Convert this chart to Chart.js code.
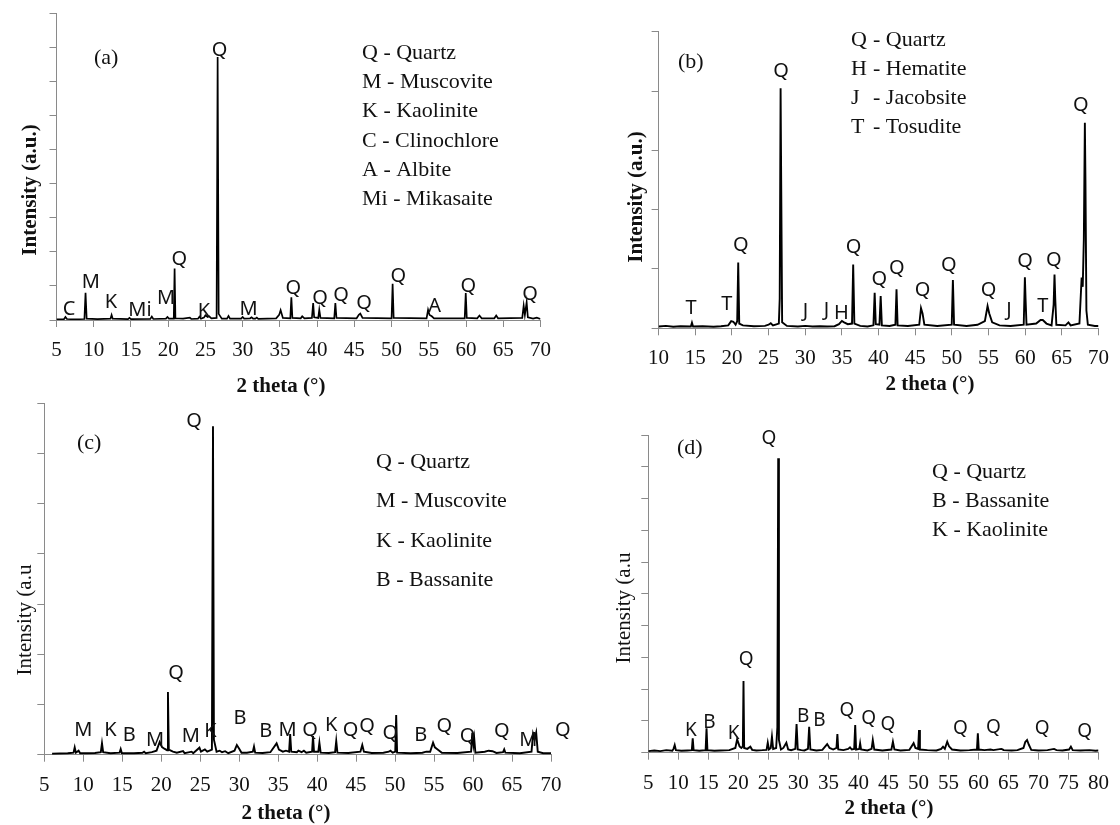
<!DOCTYPE html>
<html>
<head>
<meta charset="utf-8">
<script src="https://cdn.jsdelivr.net/npm/chart.js@4.4.1/dist/chart.umd.min.js"></script>
<style>
    html, body { margin: 0; padding: 0; background: #fff; }
    #wrap { position: relative; width: 1120px; height: 825px; }
    #wrap canvas { position: absolute; left: 0; top: 0; }
</style>
</head>
<body>
<div id="wrap">
    <canvas id="xrdA" width="1120" height="825"></canvas>
    <canvas id="xrdB" width="1120" height="825"></canvas>
    <canvas id="xrdC" width="1120" height="825"></canvas>
    <canvas id="xrdD" width="1120" height="825"></canvas>
</div>
<script>
// ---- data: [2 theta, intensity] ----
const patternA = [
    [5.0, 20], [6.0, 25], [6.2, 90], [6.4, 30], [7.5, 20], [8.75, 30], [8.9, 800], [9.05, 40],
    [10.5, 25], [12.25, 40], [12.4, 150], [12.55, 40], [14.6, 25], [14.8, 60], [15.0, 25],
    [17.6, 30], [17.8, 100], [18.0, 30], [19.7, 40], [19.9, 90], [20.1, 40], [20.75, 40],
    [20.86, 1510], [20.97, 50], [22.0, 40], [22.9, 70], [23.1, 30], [24.0, 40], [24.2, 100],
    [24.4, 40], [24.8, 70], [25.0, 140], [25.3, 90], [25.5, 110], [25.8, 50], [26.5, 60],
    [26.64, 7720], [26.78, 180], [27.2, 40], [27.9, 40], [28.1, 120], [28.3, 40], [29.8, 40],
    [30.0, 90], [30.2, 40], [31.0, 50], [31.2, 80], [31.4, 40], [31.7, 40], [31.9, 70], [32.1, 35],
    [34.5, 50], [34.9, 150], [35.1, 290], [35.4, 60], [36.4, 50], [36.54, 670], [36.68, 60],
    [37.8, 50], [38.0, 110], [38.3, 50], [39.3, 60], [39.47, 500], [39.6, 80], [40.15, 60],
    [40.29, 300], [40.45, 60], [42.3, 50], [42.45, 500], [42.6, 60], [45.3, 50], [45.6, 150],
    [45.8, 190], [46.1, 60], [50.0, 50], [50.14, 1065], [50.28, 60], [54.7, 50], [54.9, 300],
    [55.1, 150], [55.4, 110], [55.7, 50], [59.82, 50], [59.96, 790], [60.1, 60], [61.5, 50],
    [61.8, 130], [62.1, 50], [63.8, 50], [64.05, 130], [64.3, 50], [67.55, 60], [67.74, 420],
    [67.9, 150], [68.14, 520], [68.3, 80], [69.0, 40], [69.5, 70], [70.0, 30]
];
const patternB = [
    [10.0, 30], [11.0, 40], [12.0, 25], [13.0, 35], [14.4, 30], [14.55, 95], [14.7, 30], [16.0, 35],
    [17.5, 25], [18.5, 35], [19.5, 50], [19.9, 120], [20.2, 110], [20.5, 60], [20.72, 120],
    [20.86, 1110], [21.0, 80], [21.5, 50], [23.0, 35], [24.5, 40], [25.0, 60], [25.3, 85],
    [25.6, 50], [26.4, 80], [26.52, 500], [26.64, 4045], [26.72, 2500], [26.85, 100], [27.5, 40],
    [29.0, 30], [30.0, 40], [31.0, 30], [32.0, 35], [33.0, 30], [34.0, 35], [34.6, 70], [35.0, 124],
    [35.3, 100], [35.8, 70], [36.38, 80], [36.54, 1075], [36.7, 80], [37.5, 40], [38.5, 30],
    [39.3, 50], [39.47, 600], [39.62, 70], [40.12, 60], [40.29, 545], [40.45, 50], [41.5, 40],
    [42.3, 60], [42.45, 657], [42.6, 50], [44.0, 40], [45.55, 60], [45.79, 340], [46.0, 250],
    [46.25, 60], [48.0, 40], [49.98, 60], [50.14, 815], [50.3, 60], [52.0, 40], [53.5, 60],
    [54.5, 120], [54.87, 376], [55.1, 250], [55.5, 100], [56.5, 50], [58.0, 40], [59.8, 60],
    [59.96, 860], [60.05, 500], [60.18, 60], [61.5, 80], [62.1, 140], [62.4, 140], [62.9, 80],
    [63.6, 50], [63.88, 400], [64.0, 905], [64.1, 500], [64.25, 60], [65.5, 50], [65.9, 100],
    [66.2, 50], [67.4, 80], [67.7, 854], [67.85, 700], [68.0, 1500], [68.14, 3466], [68.22, 2500],
    [68.35, 300], [68.55, 60], [69.5, 40], [70.0, 40]
];
const patternC = [
    [6.0, 20], [7.0, 25], [8.0, 30], [8.75, 40], [8.9, 146], [9.05, 40], [9.4, 80], [9.6, 30],
    [10.5, 30], [11.5, 35], [12.25, 50], [12.4, 226], [12.55, 50], [13.5, 30], [14.65, 40], [14.8, 113],
    [14.95, 30], [16.5, 30], [17.6, 40], [17.8, 60], [18.0, 30], [18.8, 50], [19.4, 80], [19.8, 252],
    [20.1, 150], [20.4, 120], [20.75, 90], [20.86, 1248], [20.97, 100], [21.5, 60], [22.0, 40],
    [22.8, 70], [23.0, 30], [23.9, 60], [24.1, 30], [24.9, 140], [25.1, 60], [25.6, 106], [25.9, 60],
    [26.5, 100], [26.64, 6545], [26.76, 300], [27.1, 60], [27.5, 80], [27.8, 50], [28.2, 70],
    [28.6, 30], [29.4, 80], [29.7, 193], [30.0, 120], [30.3, 40], [31.0, 40], [31.75, 60], [31.9, 160],
    [32.05, 40], [33.0, 35], [34.0, 50], [34.8, 226], [35.1, 100], [35.6, 60], [36.0, 80], [36.4, 60],
    [36.54, 412], [36.68, 60], [37.4, 50], [37.6, 80], [38.0, 50], [38.3, 80], [38.6, 40], [39.35, 60],
    [39.47, 372], [39.6, 60], [40.15, 60], [40.29, 239], [40.45, 40], [41.5, 35], [42.3, 50],
    [42.45, 272], [42.6, 40], [44.0, 35], [45.55, 60], [45.79, 193], [46.0, 60], [47.0, 35],
    [48.5, 40], [49.2, 60], [49.4, 80], [49.7, 40], [50.02, 60], [50.14, 790], [50.26, 40], [52.0, 30],
    [53.5, 40], [54.0, 60], [54.5, 60], [54.87, 239], [55.1, 146], [55.5, 100], [56.0, 40],
    [58.0, 35], [59.75, 60], [59.9, 438], [60.05, 200], [60.15, 325], [60.3, 40], [61.5, 60],
    [62.0, 80], [62.5, 70], [63.0, 35], [63.85, 50], [64.0, 106], [64.15, 40], [66.0, 30], [67.5, 60],
    [67.7, 412], [67.9, 300], [68.1, 438], [68.3, 60], [69.0, 30], [70.0, 30]
];
const patternD = [
    [5.0, 50], [6.0, 70], [7.0, 50], [8.0, 80], [9.0, 60], [9.2, 120], [9.4, 241], [9.6, 80],
    [10.5, 60], [11.5, 70], [12.25, 80], [12.4, 450], [12.55, 80], [13.5, 60], [14.55, 80], [14.7, 765],
    [14.85, 80], [16.0, 60], [17.0, 70], [18.5, 80], [19.5, 150], [19.8, 420], [20.2, 200], [20.5, 150],
    [20.75, 200], [20.86, 2254], [20.97, 150], [21.5, 120], [22.0, 190], [22.3, 90], [23.0, 70],
    [24.0, 80], [24.7, 90], [24.9, 315], [25.1, 100], [25.4, 150], [25.6, 500], [25.8, 120],
    [26.3, 150], [26.5, 800], [26.64, 9265], [26.76, 400], [27.1, 100], [27.5, 150], [28.0, 315],
    [28.3, 100], [28.8, 80], [29.5, 120], [29.7, 900], [29.9, 100], [30.5, 80], [31.0, 70],
    [31.6, 120], [31.8, 818], [32.0, 100], [33.0, 70], [34.0, 90], [34.8, 272], [35.2, 150],
    [35.8, 100], [36.35, 150], [36.5, 587], [36.65, 100], [37.5, 80], [38.3, 120], [38.6, 168],
    [38.9, 100], [39.3, 120], [39.47, 870], [39.62, 100], [40.15, 120], [40.29, 294], [40.45, 100],
    [41.5, 70], [42.2, 120], [42.4, 400], [42.65, 100], [44.0, 70], [45.5, 100], [45.75, 346],
    [46.0, 100], [47.0, 70], [48.5, 90], [49.2, 300], [49.5, 150], [49.95, 120], [50.1, 714],
    [50.25, 100], [51.5, 80], [53.0, 70], [53.8, 120], [54.1, 190], [54.4, 120], [54.8, 346],
    [55.1, 200], [55.6, 100], [57.0, 70], [58.5, 80], [59.75, 100], [59.9, 609], [60.05, 100],
    [61.0, 80], [62.0, 100], [62.5, 80], [63.8, 120], [64.0, 105], [64.2, 80], [65.5, 70],
    [66.5, 80], [67.5, 150], [67.8, 335], [68.1, 400], [68.4, 250], [68.8, 90], [70.0, 70],
    [71.5, 80], [72.6, 120], [73.0, 80], [74.0, 70], [75.1, 100], [75.4, 190], [75.7, 80],
    [77.0, 70], [78.5, 80], [79.5, 60], [80.0, 70]
];

// tick values
const xTicksA = [5, 10, 15, 20, 25, 30, 35, 40, 45, 50, 55, 60, 65, 70];
const xTicksB = [10, 15, 20, 25, 30, 35, 40, 45, 50, 55, 60, 65, 70];
const xTicksC = [5, 10, 15, 20, 25, 30, 35, 40, 45, 50, 55, 60, 65, 70];
const xTicksD = [5, 10, 15, 20, 25, 30, 35, 40, 45, 50, 55, 60, 65, 70, 75, 80];
const yTicksA = [0, 1000, 2000, 3000, 4000, 5000, 6000, 7000, 8000, 9000];
const yTicksB = [0, 1000, 2000, 3000, 4000, 5000];
const yTicksC = [0, 1000, 2000, 3000, 4000, 5000, 6000, 7000];
const yTicksD = [0, 1000, 2000, 3000, 4000, 5000, 6000, 7000, 8000, 9000, 10000];

// phase marks: [letter, 2 theta, intensity level]
const peaksA = [
    ['C', 6.7, 313], ['M', 9.6, 1095], ['K', 12.3, 508], ['Mi', 16.2, 293], ['M', 19.7, 636],
    ['Q', 21.5, 1780], ['K', 24.8, 264], ['Q', 26.9, 7918], ['M', 30.8, 313], ['Q', 36.8, 929],
    ['Q', 40.4, 636], ['Q', 43.2, 733], ['Q', 46.3, 489], ['Q', 50.9, 1290], ['A', 55.8, 410],
    ['Q', 60.3, 997], ['Q', 68.6, 753]
];
const peaksB = [
    ['T', 14.44, 337], ['T', 19.3, 410], ['Q', 21.2, 1393], ['Q', 26.7, 4339], ['J', 30.04, 280],
    ['J', 32.9, 309], ['H', 34.95, 258], ['Q', 36.6, 1366], ['Q', 40.1, 831], ['Q', 42.5, 1012],
    ['Q', 46.0, 646], ['Q', 49.6, 1067], ['Q', 55.0, 634], ['J', 57.8, 309], ['Q', 60.0, 1123],
    ['T', 62.4, 364], ['Q', 63.9, 1152], ['Q', 67.6, 3766]
];
const peaksC = [
    ['M', 10.0, 492], ['K', 13.5, 492], ['B', 15.9, 379], ['M', 19.2, 293], ['Q', 21.9, 1621],
    ['M', 23.8, 373], ['K', 26.3, 458], ['Q', 24.2, 6647], ['B', 30.1, 725], ['B', 33.4, 458],
    ['M', 36.2, 492], ['Q', 39.1, 492], ['K', 41.8, 592], ['Q', 44.3, 492], ['Q', 46.4, 572],
    ['Q', 49.4, 426], ['B', 53.3, 392], ['Q', 56.3, 572], ['Q', 59.3, 373], ['Q', 63.7, 458],
    ['M', 67.1, 293], ['Q', 71.5, 492]
];
const peaksD = [
    ['K', 12.1, 692], ['B', 15.2, 943], ['K', 19.2, 610], ['Q', 21.3, 2915], ['Q', 25.1, 9887],
    ['B', 30.8, 1132], ['B', 33.5, 997], ['Q', 38.1, 1321], ['Q', 41.7, 1082], ['Q', 44.9, 871],
    ['Q', 57.0, 767], ['Q', 62.5, 799], ['Q', 70.6, 767], ['Q', 77.7, 660]
];

const legendA = [['Q', 'Quartz'], ['M', 'Muscovite'], ['K', 'Kaolinite'], ['C', 'Clinochlore'], ['A', 'Albite'], ['Mi', 'Mikasaite']];
const legendB = [['Q', 'Quartz'], ['H', 'Hematite'], ['J', 'Jacobsite'], ['T', 'Tosudite']];
const legendC = [['Q', 'Quartz'], ['M', 'Muscovite'], ['K', 'Kaolinite'], ['B', 'Bassanite']];
const legendD = [['Q', 'Quartz'], ['B', 'Bassanite'], ['K', 'Kaolinite']];

var AXIS_GREY = '#8a8a8a';
var SERIF = '"Liberation Serif", "DejaVu Serif", serif';

var panelText = {
    id: 'panelText',
    afterDraw: function (chart, args, o) {
        var ctx = chart.ctx;
        var xs = chart.scales.x;
        var ys = chart.scales.y;
        ctx.save();
        ctx.fillStyle = '#111';
        ctx.textBaseline = 'middle';

        ctx.textAlign = 'center';
        ctx.font = o.peakFont;
        o.peaks.forEach(function (p) {
            ctx.fillText(p[0], xs.getPixelForValue(p[1]), ys.getPixelForValue(p[2]));
        });

        ctx.textAlign = 'left';
        ctx.font = '22px ' + SERIF;
        o.legend.forEach(function (item, i) {
            var y = o.legendY + i * o.legendGap;
            if (o.legendTab) {
                ctx.fillText(item[0], o.legendX, y);
                ctx.fillText('- ' + item[1], o.legendX + o.legendTab, y);
            } else {
                ctx.fillText(item[0] + ' - ' + item[1], o.legendX, y);
            }
        });
        ctx.fillText(o.tag, o.tagX, o.tagY);

        ctx.textAlign = 'center';
        ctx.font = 'bold 21px ' + SERIF;
        ctx.fillText('2 theta (°)', o.xTitleX, o.xTitleY);

        ctx.font = (o.yTitleBold ? 'bold ' : '') + '21px ' + SERIF;
        ctx.translate(o.yTitleX, o.yTitleY);
        ctx.rotate(-Math.PI / 2);
        ctx.fillText(o.yTitle, 0, 0);
        ctx.restore();
    }
};

function makePanel(id, pattern, xTicks, yTicks, box, text) {
    var ctx = document.getElementById(id);
    return new Chart(ctx, {
        type: 'line',
        data: {
            datasets: [{
                data: pattern.map(function (p) { return {x: p[0], y: p[1]}; }),
                borderColor: '#000',
                borderWidth: box.lineWidth,
                pointRadius: 0,
                tension: 0,
                fill: false,
            }]
        },
        options: {
            responsive: false,
            animation: false,
            events: [],
            layout: {
                padding: {
                    left: box.left - 8,
                    right: 1120 - box.right,
                    top: box.top,
                    bottom: 825 - box.bottom - 40,
                }
            },
            scales: {
                x: {
                    type: 'linear',
                    min: xTicks[0],
                    max: xTicks[xTicks.length - 1],
                    afterBuildTicks: function (s) { s.ticks = xTicks.map(function (v) { return {value: v}; }); },
                    afterFit: function (s) { s.height = 40; },
                    grid: {drawOnChartArea: false, drawTicks: true, tickLength: 7, color: AXIS_GREY},
                    border: {color: AXIS_GREY, width: 1},
                    ticks: {
                        autoSkip: false, maxRotation: 0, minRotation: 0, padding: 11,
                        color: '#111', font: {family: SERIF, size: 21},
                    },
                },
                y: {
                    min: yTicks[0],
                    max: yTicks[yTicks.length - 1],
                    afterBuildTicks: function (s) { s.ticks = yTicks.map(function (v) { return {value: v}; }); },
                    afterFit: function (s) { s.width = 8; },
                    grid: {drawOnChartArea: false, drawTicks: true, tickLength: 7, color: AXIS_GREY},
                    border: {color: AXIS_GREY, width: 1},
                    ticks: {callback: function () { return ''; }},
                },
            },
            plugins: {
                legend: {display: false},
                tooltip: {enabled: false},
                panelText: text,
            },
        },
        plugins: [panelText],
    });
}

makePanel('xrdA', patternA, xTicksA, yTicksA,
    {left: 56.5, right: 540.5, top: 13.3, bottom: 320, lineWidth: 1.7},
    {
        peaks: peaksA, peakFont: '20px "Noto Sans"', legend: legendA,
        legendX: 362, legendY: 53, legendGap: 29.3,
        tag: '(a)', tagX: 94, tagY: 58,
        xTitleX: 281, xTitleY: 387, yTitle: 'Intensity (a.u.)', yTitleBold: true, yTitleX: 31, yTitleY: 190,
    });

makePanel('xrdB', patternB, xTicksB, yTicksB,
    {left: 658.6, right: 1106.7, top: 31.7, bottom: 328.3, lineWidth: 1.9},
    {
        peaks: peaksB, peakFont: '20px "Noto Sans"', legend: legendB,
        legendX: 851, legendY: 40, legendGap: 29, legendTab: 22,
        tag: '(b)', tagX: 678, tagY: 62,
        xTitleX: 930, xTitleY: 385, yTitle: 'Intensity (a.u.)', yTitleBold: true, yTitleX: 637, yTitleY: 197,
    });

makePanel('xrdC', patternC, xTicksC, yTicksC,
    {left: 44.3, right: 551, top: 403.3, bottom: 754.7, lineWidth: 1.9},
    {
        peaks: peaksC, peakFont: '20px "Noto Sans"', legend: legendC,
        legendX: 376, legendY: 462, legendGap: 39.5,
        tag: '(c)', tagX: 77, tagY: 443,
        xTitleX: 286, xTitleY: 814, yTitle: 'Intensity (a.u', yTitleBold: false, yTitleX: 25, yTitleY: 620,
    });

makePanel('xrdD', patternD, xTicksD, yTicksD,
    {left: 648.3, right: 1105, top: 435, bottom: 752.7, lineWidth: 1.9},
    {
        peaks: peaksD, peakFont: '19px "Noto Sans"', legend: legendD,
        legendX: 932, legendY: 472, legendGap: 29.3,
        tag: '(d)', tagX: 677, tagY: 448,
        xTitleX: 889, xTitleY: 809, yTitle: 'Intensity (a.u', yTitleBold: false, yTitleX: 624, yTitleY: 608,
    });
</script>
</body>
</html>
